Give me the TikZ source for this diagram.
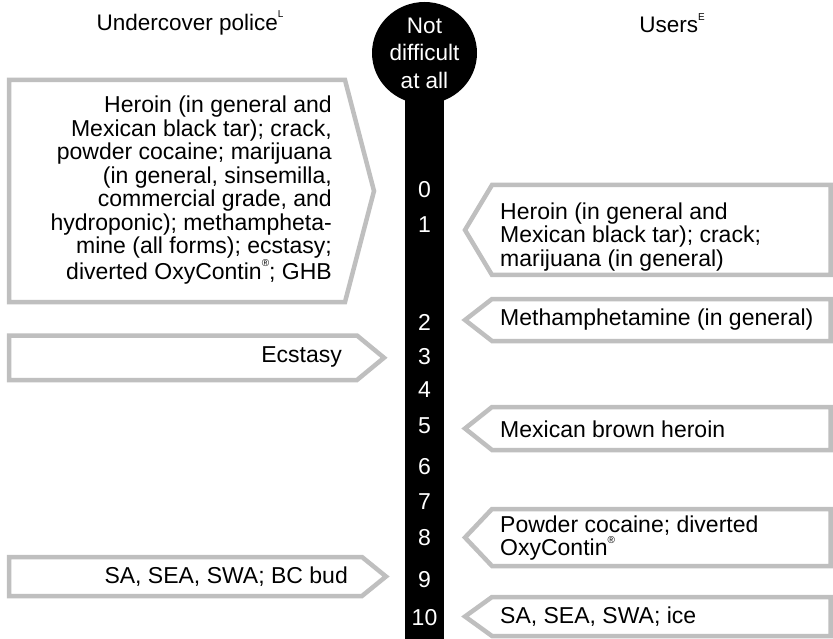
\documentclass[tikz,border=0pt]{standalone}
\usepackage{fontspec}
\setmainfont{Liberation Sans}
\usetikzlibrary{positioning}
\newcommand{\felso}[1]{\raisebox{0.55em}{\fontsize{10}{10}\selectfont #1}}
\tikzset{
  keret/.style={draw=black!25,line width=4.5pt,fill=white,line join=miter},
  szov/.style={inner sep=0pt,font=\fontsize{23}{23.5}\selectfont},
  szam/.style={text=white,inner sep=0pt,font=\fontsize{23}{23}\selectfont},
  fej/.style={inner sep=0pt,font=\fontsize{22.5}{22.5}\selectfont},
}
\begin{document}
\begin{tikzpicture}[x=1pt,y=-1pt]
  \useasboundingbox (0,0) rectangle (833,639);
  \fill (405,53) rectangle (444,639);
  \fill (424.5,53) ellipse [x radius=52.5,y radius=51];
  \node[szam,align=center,font=\fontsize{22.5}{27.5}\selectfont] (fej0) at (424.5,53) {Not\\difficult\\at all};
  \node[fej] (rendor) at (190,23) {Undercover police\felso{L}};
  \node[fej] (hasznalo) at (672,23) {Users\felso{E}};
  \foreach \i/\y in {0/190,1/225,2/322,3/357,4/390,5/426,6/467,7/502,8/538,9/580,10/618}
    \node[szam] (sz\i) at (424.5,\y) {\i};
  \foreach \t/\b/\c/\p in {80/302/345/374, 335.5/380/357/384, 557/596/362/386}
    \draw[keret] (9,\t) -- (\c,\t) -- (\p,{(\t+\b)/2}) -- (\c,\b) -- (9,\b) -- cycle;
  \foreach \t/\b in {185/275, 299/341, 407/450, 509/566, 597/636}
    \draw[keret] (830.5,\t) -- (492,\t) -- (465,{(\t+\b)/2}) -- (492,\b) -- (830.5,\b) -- cycle;
  \node[szov,anchor=east,align=right] (bal1) at (332,190) {Heroin (in general and\\Mexican black tar); crack,\\powder cocaine; marijuana\\(in general, sinsemilla,\\commercial grade, and\\hydroponic); methampheta-\\mine (all forms); ecstasy;\\diverted OxyContin\felso{®}; GHB};
  \node[szov,anchor=east] (bal2) at (342,357) {Ecstasy};
  \node[szov,anchor=east] (bal3) at (348,577) {SA, SEA, SWA; BC bud};
  \node[szov,anchor=west,align=left] (jobb1) at (500,237) {Heroin (in general and\\Mexican black tar); crack;\\marijuana (in general)};
  \node[szov,anchor=west] (jobb2) at (500,320) {Methamphetamine (in general)};
  \node[szov,anchor=west] (jobb3) at (500,429) {Mexican brown heroin};
  \node[szov,anchor=west,align=left] (jobb4) at (500,538) {Powder cocaine; diverted\\OxyContin\felso{®}};
  \node[szov,anchor=west] (jobb5) at (500,617) {SA, SEA, SWA; ice};
\end{tikzpicture}
\end{document}
